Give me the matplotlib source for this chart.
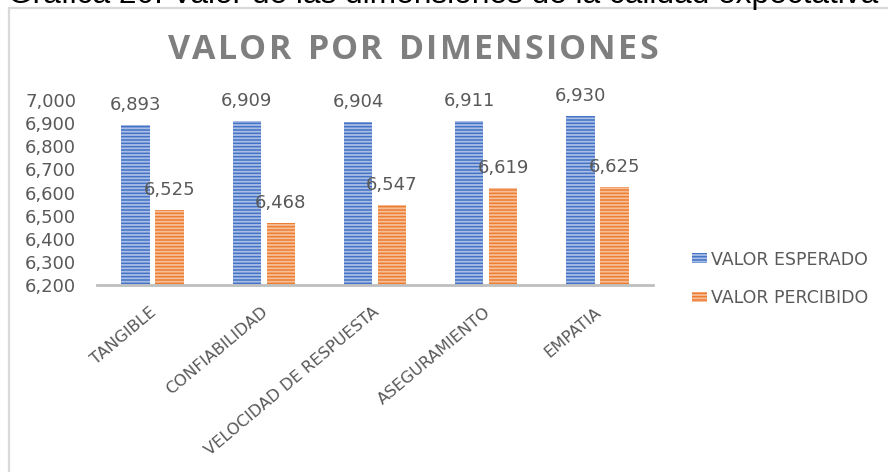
import numpy as np
import matplotlib
matplotlib.use("Agg")
import matplotlib.pyplot as plt
from matplotlib.patches import Patch, Rectangle
from matplotlib.transforms import ScaledTranslation

# Data
categories = ["TANGIBLE", "CONFIABILIDAD", "VELOCIDAD DE RESPUESTA",
              "ASEGURAMIENTO", "EMPATIA"]
valor_esperado = [6.893, 6.909, 6.904, 6.911, 6.930]
valor_percibido = [6.525, 6.468, 6.547, 6.619, 6.625]
series_names = ["VALOR ESPERADO", "VALOR PERCIBIDO"]
y_ticks = [6.2, 6.3, 6.4, 6.5, 6.6, 6.7, 6.8, 6.9, 7.0]
title = "VALOR POR DIMENSIONES"
caption = "Gráfica 20. Valor de las dimensiones de la calidad expectativa"

blue = "#4472C4"
blue_light = "#A9BEE6"
orange = "#ED7D31"
orange_light = "#F6BE98"
text_gray = "#595959"

plt.rcParams["font.family"] = ["DejaVu Sans"]
plt.rcParams["hatch.linewidth"] = 1.3

W, H = 888, 472
fig = plt.figure(figsize=(W / 100, H / 100), dpi=100)
renderer = fig.canvas.get_renderer()

def fx(px):
    return px / W

def fy(py):
    return 1 - py / H

# Outer chart frame (extends past the right and bottom edges)
fig.patches.append(Rectangle((fx(9), -0.2), 1.2, fy(8) + 0.2,
                             transform=fig.transFigure, fill=False,
                             edgecolor="#d9d9d9", linewidth=1.6))

# Caption above the chart, partly beyond the top edge
fig.text(fx(8), fy(3), caption,
         family="Liberation Sans", fontsize=22.8, color="black",
         ha="left", va="baseline")

# Letter-spaced title spanning x = 168 .. 658 px
title_kw = dict(family="Open Sans", fontsize=24.5, fontweight="bold",
                color="#7f7f7f", va="center", ha="left")
widths = []
for ch in title:
    t = fig.text(0, 0, ch if ch != " " else "n", **title_kw)
    w = t.get_window_extent(renderer).width
    if ch == " ":
        w *= 0.55
    widths.append(w)
    t.remove()
left_px, right_px = 168, 658
gap = (right_px - left_px - sum(widths)) / (len(title) - 1)
xpos = left_px
for ch, w in zip(title, widths):
    if ch != " ":
        fig.text(fx(xpos), fy(50), ch, **title_kw)
    xpos += w + gap

ax = fig.add_axes([fx(97), fy(285), fx(653) - fx(97), fy(100) - fy(285)])

x = np.arange(len(categories))
width = 0.255
offset = 0.153

b1 = ax.bar(x - offset, valor_esperado, width, color=blue, edgecolor=blue_light,
            linewidth=0, hatch="-----")
b2 = ax.bar(x + offset, valor_percibido, width, color=orange, edgecolor=orange_light,
            linewidth=0, hatch="-----")

def fmt(v):
    return f"{v:.3f}".replace(".", ",")

for bars, vals in ((b1, valor_esperado), (b2, valor_percibido)):
    for rect, v in zip(bars, vals):
        ax.annotate(fmt(v), (rect.get_x() + rect.get_width() / 2, v),
                    xytext=(0, 14.4), textcoords="offset points",
                    ha="center", va="center", fontsize=13, color=text_gray,
                    annotation_clip=False)

ax.set_xlim(-0.5, len(categories) - 0.5)
ax.set_ylim(6.2, 7.0)
ax.set_yticks(y_ticks)
ax.set_yticklabels([fmt(t) for t in y_ticks], fontsize=13, color=text_gray)
ax.tick_params(axis="y", length=0, pad=15)

ax.set_xticks(x)
ax.set_xticklabels(categories, fontsize=11.7, color=text_gray,
                   rotation=40, ha="right", va="center", rotation_mode="anchor")
ax.tick_params(axis="x", length=0, pad=18)
shift = ScaledTranslation(2 / 100, 0, fig.dpi_scale_trans)
for lbl in ax.get_xticklabels():
    lbl.set_transform(lbl.get_transform() + shift)

for side in ("top", "right", "left"):
    ax.spines[side].set_visible(False)
ax.spines["bottom"].set_color("#bfbfbf")
ax.spines["bottom"].set_linewidth(2)
ax.patch.set_visible(False)

handles = [Patch(facecolor=blue, edgecolor=blue_light, linewidth=0, hatch="-----"),
           Patch(facecolor=orange, edgecolor=orange_light, linewidth=0, hatch="-----")]
fig.legend(handles, series_names, loc="center left",
           bbox_to_anchor=(fx(692), fy(279)), frameon=False, fontsize=12.5,
           labelcolor=text_gray, handlelength=0.85, handleheight=0.5,
           handletextpad=0.25, labelspacing=1.2, borderpad=0, borderaxespad=0)

fig.savefig("out.png", dpi=100)
